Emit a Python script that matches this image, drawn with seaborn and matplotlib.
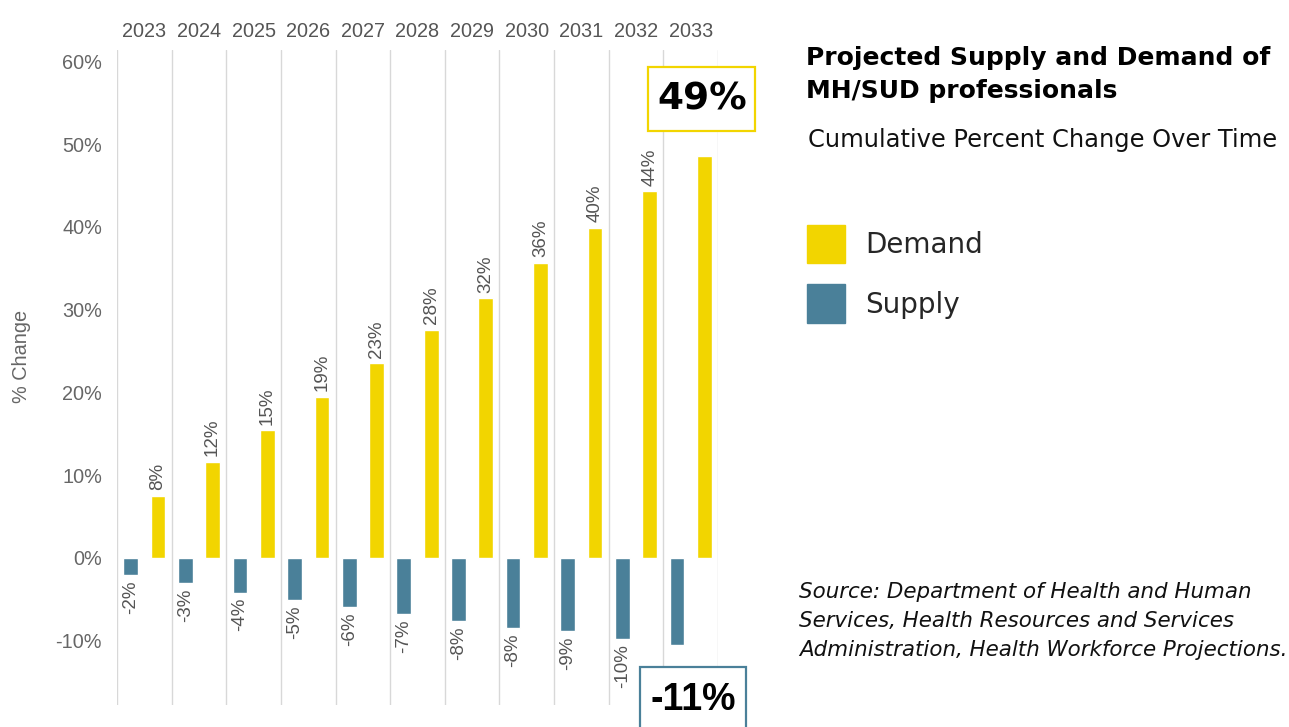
import matplotlib
matplotlib.use("Agg")
import matplotlib.pyplot as plt
import seaborn as sns
import pandas as pd
from matplotlib.patches import Patch, Rectangle

years = ["2023", "2024", "2025", "2026", "2027", "2028", "2029", "2030", "2031", "2032", "2033"]
demand = [7.5, 11.6, 15.4, 19.5, 23.5, 27.6, 31.4, 35.7, 39.9, 44.3, 48.6]
supply = [-2.1, -3.1, -4.2, -5.1, -5.9, -6.8, -7.6, -8.5, -8.9, -9.8, -10.5]
demand_labels = ["8%", "12%", "15%", "19%", "23%", "28%", "32%", "36%", "40%", "44%", ""]
supply_labels = ["-2%", "-3%", "-4%", "-5%", "-6%", "-7%", "-8%", "-8%", "-9%", "-10%", ""]
yticks = [-10, 0, 10, 20, 30, 40, 50, 60]

YELLOW = "#F2D500"
TEAL = "#4A8099"
GRAY = "#666666"

W, H = 1289, 727

df = pd.DataFrame({
    "year": years * 2,
    "series": ["Supply"] * len(years) + ["Demand"] * len(years),
    "value": supply + demand,
})

sns.set_theme(style="white")
plt.rcParams["font.family"] = ["Liberation Sans", "DejaVu Sans"]

fig = plt.figure(figsize=(W / 100, H / 100), dpi=100)
ax = fig.add_axes([117 / W, 1 - 705 / H, (718 - 117) / W, (705 - 50) / H])

sns.barplot(data=df, x="year", y="value", hue="series", hue_order=["Supply", "Demand"],
            palette={"Supply": TEAL, "Demand": YELLOW}, width=1.0, gap=0.46,
            dodge=True, legend=False, ax=ax, saturation=1)

ax.set_xlim(-0.5, len(years) - 0.5)
ax.set_ylim(-17.8, 61.4)
for i in range(len(years) + 1):
    ax.axvline(i - 0.5, color="#d8d8d8", lw=1, zorder=0)

for sp in ax.spines.values():
    sp.set_visible(False)

ax.xaxis.tick_top()
ax.tick_params(axis="x", length=0, pad=6.5, labelsize=14.3, labelcolor="#555555")
ax.set_xlabel("")
ax.set_yticks(yticks)
ax.set_yticklabels([f"{v}%" for v in yticks])
ax.tick_params(axis="y", length=0, pad=10.8, labelsize=14.3, labelcolor=GRAY)
ax.set_ylabel("% Change", fontsize=14.3, color=GRAY)
ax.yaxis.set_label_coords(-0.143, 0.532)

ax.bar_label(ax.containers[0], labels=supply_labels, rotation=90, padding=4,
             fontsize=13.5, color="#555555")
ax.bar_label(ax.containers[1], labels=demand_labels, rotation=90, padding=4,
             fontsize=13.5, color="#555555")

# highlight boxes for 2033
fig.add_artist(Rectangle((648 / W, 1 - 131 / H), 107 / W, 64 / H, transform=fig.transFigure,
                         fc="white", ec=YELLOW, lw=1.6, zorder=5))
fig.text(702 / W, 1 - 100 / H, "49%", fontsize=27, fontweight="bold", color="black",
         family="DejaVu Sans", ha="center", va="center", zorder=6)
fig.add_artist(Rectangle((640 / W, 1 - 740 / H), 106 / W, 73 / H, transform=fig.transFigure,
                         fc="white", ec=TEAL, lw=1.6, zorder=5))
fig.text(693 / W, 1 - 700 / H, "-11%", fontsize=27, fontweight="bold", color="black",
         family=["Liberation Sans Narrow", "Liberation Sans"], ha="center", va="center", zorder=6)

fig.text(806 / W, 1 - 46 / H, "Projected Supply and Demand of\nMH/SUD professionals",
         fontsize=18, fontweight="bold", family="DejaVu Sans", ha="left", va="top",
         linespacing=1.49, color="black")
fig.text(808 / W, 1 - 140 / H, "Cumulative Percent Change Over Time",
         fontsize=17.4, family="DejaVu Sans", ha="left", va="center", color="#111111")

handles = [Patch(color=YELLOW, label="Demand"), Patch(color=TEAL, label="Supply")]
fig.legend(handles=handles, loc="upper left", bbox_to_anchor=(801 / W, 1 - 219.5 / H),
           frameon=False, prop={"family": "DejaVu Sans", "size": 20},
           handlelength=1.4, handleheight=1.75, handletextpad=0.7, labelspacing=0.755,
           borderaxespad=0, borderpad=0.2)

fig.text(799 / W, 1 - 582 / H,
         "Source: Department of Health and Human\nServices, Health Resources and Services\nAdministration, Health Workforce Projections.",
         fontsize=15.4, style="italic", family="DejaVu Sans", ha="left", va="top",
         linespacing=1.56, color="#111111")

fig.savefig("out.png", dpi=100)
